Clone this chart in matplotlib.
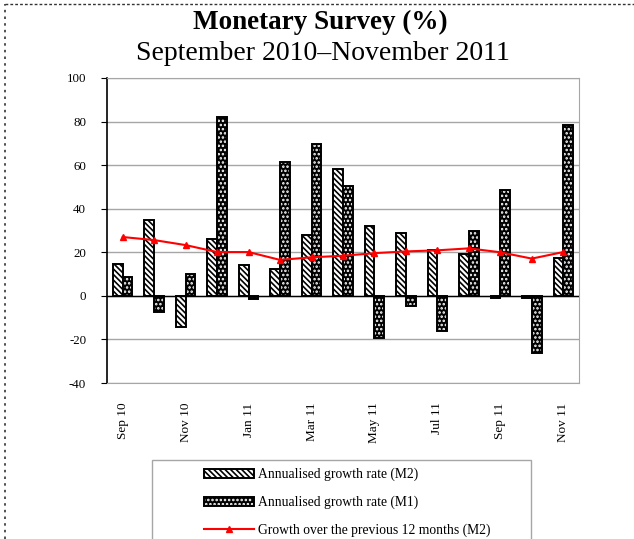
import matplotlib
matplotlib.use("Agg")
import matplotlib.pyplot as plt
from matplotlib.patches import Patch, Rectangle
from matplotlib.lines import Line2D
import numpy as np

plt.rcParams['font.family'] = 'Liberation Serif'
plt.rcParams['hatch.linewidth'] = 1.2
plt.rcParams['axes.unicode_minus'] = False

months = ['Sep 10', 'Oct 10', 'Nov 10', 'Dec 10', 'Jan 11', 'Feb 11', 'Mar 11', 'Apr 11',
          'May 11', 'Jun 11', 'Jul 11', 'Aug 11', 'Sep 11', 'Oct 11', 'Nov 11']
m2_annual = [14.8, 34.6, -14.5, 26.1, 14.0, 12.2, 28.0, 58.2, 31.9, 28.8, 21.2, 19.4, -1.2, -0.8, 17.4]
m1_annual = [8.8, -7.6, 10.1, 82.0, -1.5, 61.6, 69.7, 50.5, -19.4, -4.6, -16.3, 29.7, 48.6, -26.1, 78.4]
m2_yoy = [27.0, 25.6, 23.3, 20.1, 20.1, 16.5, 17.7, 18.4, 19.6, 20.4, 20.9, 21.8, 20.0, 17.1, 20.1]
yticks = [-40, -20, 0, 20, 40, 60, 80, 100]

fig = plt.figure(figsize=(6.34, 5.39), dpi=100)
ax = fig.add_axes([107/634, 1-383/539, (579-107)/634, (383-78)/539])

x = np.arange(len(months))
w = 0.31
grey = '#a6a6a6'
m2_hatch = '\\\\\\\\\\\\'

ax.set_axisbelow(True)
ax.yaxis.grid(True, color=grey, lw=1)
ax.bar(x - w/2, m2_annual, w, facecolor='white', edgecolor='black', hatch=m2_hatch, lw=1.4, zorder=2)
ax.bar(x + w/2, m1_annual, w, facecolor='black', edgecolor='white', hatch='....', lw=0, zorder=2)
ax.bar(x + w/2, m1_annual, w, fill=False, edgecolor='black', lw=1.4, zorder=2)
ax.axhline(0, color='black', lw=1, zorder=3)
ax.plot(x, m2_yoy, color='red', lw=1.5, marker='^', markersize=5, zorder=4)

ax.set_xlim(-0.5, len(months) - 0.5)
ax.set_ylim(-40, 100)
ax.set_yticks(yticks)
ax.set_xticks(x[::2])
ax.set_xticklabels(months[::2], rotation=90, fontsize=9.5)
ax.tick_params(axis='x', length=0, pad=14)
ax.tick_params(axis='y', labelsize=9.3, length=4, pad=11, color='black')
for s in ['top', 'right', 'bottom']:
    ax.spines[s].set_color(grey)
ax.spines['left'].set_color('black')
ax.spines['left'].set_linewidth(1.2)

fig.text(0.506, 0.958, 'Monetary Survey (%)', ha='center', va='center', fontsize=19.5, fontweight='bold')
fig.text(0.509, 0.901, 'September 2010\u2013November 2011', ha='center', va='center', fontsize=20)

# legend box
fig.patches.append(Rectangle((152/634, -0.1), (531-152)/634, 0.1 + 1 - 460/539,
                             transform=fig.transFigure, fill=False, edgecolor=grey, lw=1))
h_m2 = Patch(facecolor='white', edgecolor='black', hatch=m2_hatch, lw=1.4)
h_m1 = (Patch(facecolor='black', edgecolor='white', hatch='....', lw=0),
        Patch(fill=False, edgecolor='black', lw=1.4))
h_yoy = Line2D([], [], color='red', lw=1.5, marker='^', markersize=5)
fig.legend([h_m2, h_m1, h_yoy],
           ['Annualised growth rate (M2)', 'Annualised growth rate (M1)',
            'Growth over the previous 12 months (M2)'],
           loc='upper left', bbox_to_anchor=(193/634, 1 - 457/539), frameon=False,
           fontsize=9.8, handlelength=3.7, handleheight=0.65, handletextpad=0.25,
           labelspacing=1.05, borderpad=0.3)

# dotted border of the figure
fig.add_artist(Line2D([5/634, 1], [1 - 3.5/539, 1 - 3.5/539], transform=fig.transFigure,
                      color='#333333', lw=1, linestyle=(0, (2, 1.5))))
fig.add_artist(Line2D([5/634, 5/634], [0, 1 - 3.5/539], transform=fig.transFigure,
                      color='#333333', lw=1.2, linestyle=(0, (1.5, 2.5))))

fig.savefig('out.png', dpi=100)
